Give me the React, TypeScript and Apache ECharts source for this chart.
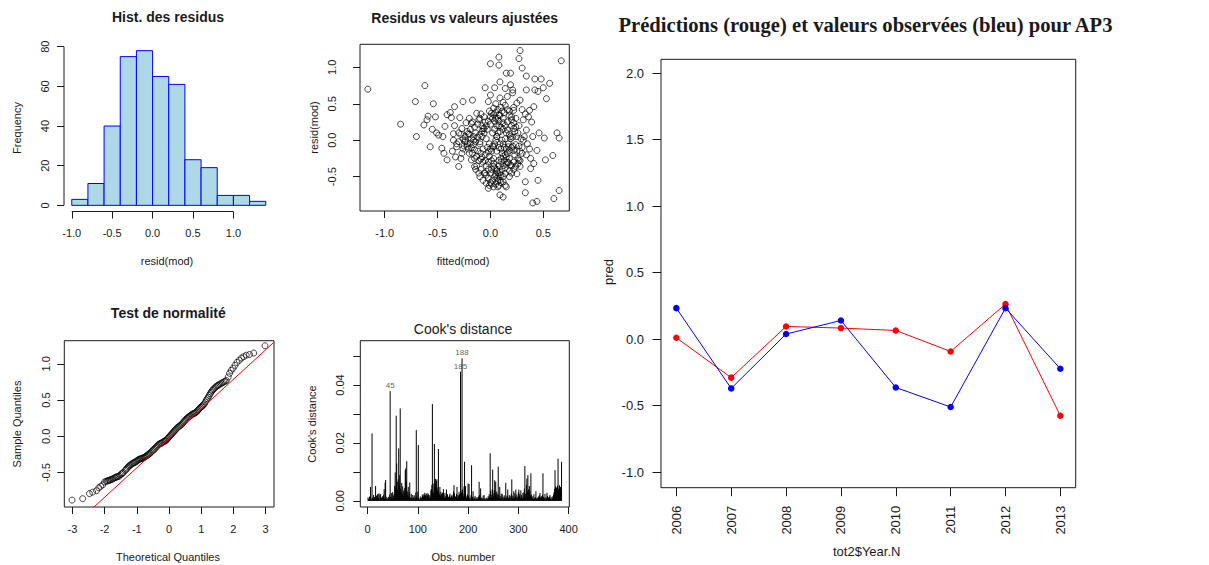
import React, { useEffect, useRef } from "react";
import * as echarts from "echarts";

// ---------- Panel 1: histogram of residuals ----------
const histBreaks = [-1.0, -0.8, -0.6, -0.4, -0.2, 0.0, 0.2, 0.4, 0.6, 0.8, 1.0, 1.2, 1.4];
const histCounts = [3, 11, 40, 75, 78, 65, 61, 23, 19, 5, 5, 2];
const histXTicks = [-1, -0.5, 0, 0.5, 1];
const histYTicks = [0, 20, 40, 60, 80];
const histXRange = [-1.096, 1.496];
const histYRange = [-3.12, 81.12];

// ---------- Panel 2: residuals vs fitted ----------
const residVsFitted: number[][] = [
  [-1.16, 0.7], [-0.85, 0.22], [-0.71, 0.53], [-0.7, 0.05], [-0.62, 0.75], [-0.54, 0.5], [-0.57, -0.09], [-0.6, 0.28],
  [-0.63, 0.21], [-0.59, 0.33], [-0.52, 0.32], [-0.51, 0.1], [-0.49, 0.07], [-0.55, 0.15], [-0.43, 0.19], [-0.45, 0.05],
  [-0.46, -0.11], [-0.44, -0.18], [-0.41, -0.27], [-0.38, 0.38], [-0.37, 0.31], [-0.41, 0.35], [-0.34, 0.46], [-0.35, 0.09],
  [-0.35, 0.0], [-0.32, -0.09], [-0.33, -0.23], [-0.3, -0.36], [-0.29, 0.31], [-0.27, 0.16], [-0.26, 0.53], [-0.27, -0.18],
  [-0.24, 0.0], [-0.22, -0.09], [-0.21, 0.09], [-0.19, -0.04], [-0.17, 0.55], [-0.18, 0.23], [-0.16, 0.05], [-0.15, -0.13],
  [-0.18, -0.27], [-0.15, -0.36], [-0.13, 0.37], [-0.11, 0.28], [-0.1, -0.02], [-0.08, -0.23], [-0.07, 0.16], [-0.05, 0.72],
  [-0.05, -0.45], [-0.04, -0.59], [-0.02, -0.66], [-0.02, 0.53], [0.0, 1.05], [0.0, 0.62], [0.01, 0.37], [0.03, -0.09],
  [0.03, -0.36], [0.04, 0.72], [0.06, 0.05], [0.07, -0.64], [0.08, 1.14], [0.08, 1.03], [0.09, 0.8], [0.09, -0.75],
  [0.12, -0.78], [0.14, 0.71], [0.15, 0.92], [0.19, 0.92], [0.19, 0.76], [0.21, 0.69], [0.28, 1.23], [0.27, 1.12],
  [0.3, 0.99], [0.34, 0.88], [0.34, 0.69], [0.42, 0.84], [0.48, 0.84], [0.42, 0.69], [0.45, 0.67], [0.5, 0.72],
  [0.56, 0.78], [0.53, 0.57], [0.67, 1.09], [0.63, 0.1], [0.65, 0.03], [0.59, -0.21], [0.52, -0.27], [0.51, 0.03],
  [0.46, 0.1], [0.44, -0.14], [0.45, -0.55], [0.38, -0.39], [0.33, -0.57], [0.33, -0.72], [0.4, -0.86], [0.44, -0.84],
  [0.6, -0.8], [0.65, -0.69], [0.36, 0.32], [0.39, 0.25], [0.37, 0.41], [0.41, 0.46], [0.34, 0.14], [0.31, 0.0],
  [0.3, -0.18], [0.27, -0.27], [0.28, -0.36], [0.25, -0.46], [0.28, 0.55], [0.25, 0.51], [0.22, 0.41], [0.2, 0.32],
  [0.22, 0.16], [0.19, 0.05], [0.17, -0.09], [0.15, -0.23], [0.19, -0.34], [0.14, -0.46], [0.12, -0.57], [0.15, -0.64],
  [-0.1, 0.3], [-0.08, 0.2], [-0.05, 0.25], [-0.03, 0.15], [0.0, 0.22], [0.02, 0.1], [0.05, 0.3], [0.07, 0.42],
  [0.08, 0.35], [0.1, 0.45], [0.12, 0.3], [0.06, 0.05], [0.09, -0.05], [0.11, 0.0], [0.13, -0.1], [0.15, 0.1],
  [0.17, -0.05], [0.19, 0.02], [0.21, -0.08], [0.23, 0.12], [0.25, 0.05], [0.14, -0.2], [0.16, -0.3], [0.18, -0.25],
  [0.2, -0.35], [0.22, -0.3], [0.1, -0.3], [0.08, -0.35], [0.06, -0.4], [0.04, -0.5], [0.02, -0.55], [0.0, -0.58],
  [-0.02, -0.52], [0.05, -0.6], [0.07, -0.45], [0.09, -0.55], [0.11, -0.4], [0.03, -0.25], [0.01, -0.15], [-0.01, -0.05],
  [-0.03, -0.1], [-0.05, -0.2], [-0.07, -0.3], [-0.09, -0.4], [-0.11, -0.45], [-0.13, -0.35], [-0.15, -0.25], [-0.12, -0.15],
  [-0.1, -0.05], [-0.08, 0.05], [-0.06, 0.1], [-0.04, 0.02], [-0.02, -0.3], [-0.14, 0.1], [-0.16, 0.0], [-0.18, -0.1],
  [-0.2, -0.18], [-0.22, -0.05], [-0.24, 0.05], [-0.19, 0.15], [-0.17, 0.25], [-0.26, -0.12], [-0.28, -0.25], [-0.3, 0.1],
  [-0.32, -0.05], [-0.34, 0.2], [-0.36, -0.15], [0.04, 0.15], [0.08, 0.2], [0.12, 0.15], [0.16, 0.25], [0.2, 0.2],
  [0.24, 0.3], [0.27, 0.2], [0.28, -0.15], [0.26, -0.25], [0.3, -0.1], [0.32, 0.05], [0.34, -0.2], [0.12, -0.5],
  [0.14, -0.62], [0.18, -0.5], [0.03, 0.35], [-0.01, 0.4], [0.06, -0.15], [0.15, -0.12], [-0.06, -0.45], [-0.04, -0.35],
  [0.01, -0.4], [0.09, 0.12], [0.13, 0.38], [0.18, 0.4], [0.22, 0.45], [0.05, 0.5], [0.09, 0.58], [0.16, 0.6], [0.21, 0.65],
  [0.06, -0.52], [0.07, -0.56], [0.08, -0.5], [0.05, -0.47], [0.09, -0.44], [0.1, -0.48], [0.06, -0.42], [0.04, -0.38],
  [0.08, -0.28], [0.1, -0.25], [0.12, -0.22], [0.11, -0.18], [0.13, -0.28], [0.15, -0.33], [0.17, -0.31], [0.16, -0.18],
  [0.18, -0.14], [0.2, -0.1], [0.22, -0.14], [0.24, -0.06], [0.21, 0.04], [0.18, 0.08], [0.16, 0.14], [0.14, 0.2],
  [0.12, 0.24], [0.1, 0.18], [0.08, 0.26], [0.06, 0.2], [0.04, 0.26], [0.02, 0.3], [0.0, 0.32], [-0.02, 0.26],
  [-0.04, 0.2], [-0.06, 0.16], [-0.08, 0.12], [-0.1, 0.08], [-0.12, 0.04], [-0.14, -0.02], [-0.16, -0.06], [-0.18, 0.02],
  [-0.2, 0.08], [-0.22, 0.12], [-0.24, -0.02], [-0.26, 0.02], [-0.28, 0.08], [-0.3, -0.02], [-0.25, -0.08], [-0.21, -0.12],
  [-0.17, -0.18], [-0.13, -0.22], [-0.09, -0.26], [-0.05, -0.28], [-0.01, -0.22], [0.01, -0.28], [0.03, -0.32], [0.0, -0.45],
  [-0.02, -0.4], [-0.04, -0.48], [-0.01, -0.62], [0.01, -0.6], [0.03, -0.64], [0.08, -0.62], [0.1, -0.58], [0.12, -0.35],
  [0.14, -0.38], [0.18, -0.42], [0.2, -0.45], [0.22, -0.4], [0.24, -0.36], [0.26, -0.32], [0.28, -0.28], [0.23, -0.2],
  [0.25, -0.15], [0.27, -0.08], [0.29, 0.02], [0.26, 0.1], [0.24, 0.18], [0.22, 0.24], [0.2, 0.28], [0.18, 0.34],
  [0.16, 0.42], [0.14, 0.48], [0.12, 0.52], [0.11, 0.4], [0.09, 0.34], [0.07, 0.3], [0.05, 0.38], [0.03, 0.44],
  [0.07, 0.1], [0.05, 0.0], [0.04, -0.05], [0.02, -0.08], [0.0, -0.12], [-0.02, -0.16], [0.08, -0.1], [0.1, -0.12],
  [0.12, -0.05], [0.14, 0.02], [-0.07, -0.12], [-0.09, -0.18], [-0.11, -0.28], [-0.06, 0.32], [-0.09, 0.36], [-0.12, 0.22],
  [-0.15, 0.18], [-0.2, 0.3], [-0.23, 0.24], [-0.14, -0.4], [-0.1, -0.5], [-0.07, -0.55], [0.31, 0.28], [0.33, 0.36],
  [0.3, 0.42], [0.35, -0.05], [0.37, -0.12], [0.4, 0.05], [0.38, -0.25], [0.41, -0.32],
];
const scatterXTicks = [-1, -0.5, 0, 0.5];
const scatterYTicks = [-0.5, 0, 0.5, 1];
const scatterXRange = [-1.234, 0.746];
const scatterYRange = [-0.971, 1.316];

// ---------- Panel 3: normal QQ plot ----------
const qqPoints: number[][] = [
  [-3.01, -0.88], [-2.68, -0.86], [-2.47, -0.79], [-2.37, -0.77], [-2.25, -0.75], [-2.18, -0.71], [-2.12, -0.69],
  [-2.06, -0.67], [-2.0, -0.63], [-1.95, -0.62], [-1.88, -0.61], [-1.82, -0.6], [-1.75, -0.59], [-1.68, -0.57],
  [-1.62, -0.56], [-1.55, -0.55], [-1.48, -0.52], [-1.42, -0.5], [-1.36, -0.47], [-1.3, -0.44], [-1.24, -0.41],
  [-1.18, -0.39], [-1.12, -0.37], [-1.06, -0.36], [-1.0, -0.34], [-0.94, -0.32], [-0.88, -0.31], [-0.82, -0.3],
  [-0.76, -0.29], [-0.7, -0.27], [-0.64, -0.25], [-0.58, -0.23], [-0.52, -0.2], [-0.46, -0.18], [-0.4, -0.15],
  [-0.34, -0.12], [-0.28, -0.1], [-0.22, -0.09], [-0.16, -0.07], [-0.1, -0.06], [-0.04, -0.03], [0.02, 0.0],
  [0.08, 0.03], [0.14, 0.06], [0.2, 0.09], [0.26, 0.12], [0.32, 0.14], [0.38, 0.16], [0.44, 0.19], [0.5, 0.22],
  [0.56, 0.25], [0.62, 0.27], [0.68, 0.29], [0.74, 0.31], [0.8, 0.32], [0.86, 0.34], [0.92, 0.37], [0.98, 0.4],
  [1.04, 0.42], [1.1, 0.45], [1.16, 0.5], [1.22, 0.54], [1.28, 0.59], [1.34, 0.63], [1.4, 0.66], [1.47, 0.69],
  [1.54, 0.71], [1.62, 0.73], [1.7, 0.75], [1.78, 0.77], [1.84, 0.82], [1.88, 0.87], [1.93, 0.91], [1.99, 0.94],
  [2.05, 0.98], [2.11, 1.02], [2.18, 1.05], [2.25, 1.08], [2.32, 1.1], [2.4, 1.12], [2.5, 1.13], [2.63, 1.15], [2.98, 1.25],
  [-1.33, -0.455], [-1.27, -0.425], [-1.21, -0.4], [-1.15, -0.38], [-1.09, -0.365], [-1.03, -0.35], [-0.97, -0.33],
  [-0.91, -0.315], [-0.85, -0.305], [-0.79, -0.295], [-0.73, -0.28], [-0.67, -0.26], [-0.61, -0.24], [-0.55, -0.215],
  [-0.49, -0.19], [-0.43, -0.165], [-0.37, -0.135], [-0.31, -0.11], [-0.25, -0.095], [-0.19, -0.08], [-0.13, -0.065],
  [-0.07, -0.045], [-0.01, -0.015], [0.05, 0.015], [0.11, 0.045], [0.17, 0.075], [0.23, 0.105], [0.29, 0.13],
  [0.35, 0.15], [0.41, 0.175], [0.47, 0.205], [0.53, 0.235], [0.59, 0.26], [0.65, 0.28], [0.71, 0.3], [0.77, 0.315],
  [0.83, 0.33], [0.89, 0.355], [0.95, 0.385], [1.01, 0.41], [1.07, 0.435], [1.13, 0.475], [1.19, 0.52], [1.25, 0.565],
  [1.31, 0.61], [1.37, 0.645], [1.44, 0.675], [1.51, 0.7], [1.58, 0.72], [1.66, 0.74], [1.74, 0.76], [-1.45, -0.51],
  [-1.52, -0.535], [-1.59, -0.555], [-1.65, -0.565], [-1.72, -0.58], [-1.79, -0.595], [-1.85, -0.605], [-1.91, -0.615],
];
const qqLineX = [-3.25, 3.26];
const qqLineY = [-1.35, 1.3];
const qqXTicks = [-3, -2, -1, 0, 1, 2, 3];
const qqYTicks = [-0.5, 0, 0.5, 1];
const qqXRange = [-3.25, 3.26];
const qqYRange = [-0.975, 1.32];

// ---------- Panel 4: Cook's distance (values in thousandths, obs 1..386) ----------
const cookMilli = [
  1.2, 0.4, 0.8, 1.5, 0.6, 4.8, 0.9, 0.3, 23.3, 1.1, 0.7, 2.0, 0.5, 1.3, 0.4, 5.1, 0.9, 1.8, 0.6, 2.2,
  2.4, 1.0, 2.6, 0.5, 1.9, 2.3, 0.7, 1.2, 0.4, 1.6, 0.8, 2.1, 4.0, 1.0, 6.3, 7.2, 1.5, 0.6, 1.1, 0.3,
  0.9, 1.4, 0.5, 2.2, 37.9, 1.3, 0.8, 2.7, 1.1, 3.0, 0.6, 1.8, 2.4, 5.2, 9.8, 4.5, 29.4, 12.9, 6.5, 3.8,
  7.4, 18.1, 5.6, 8.9, 31.9, 4.2, 3.1, 6.2, 2.5, 5.0, 1.7, 3.6, 2.9, 4.4, 10.6, 11.2, 6.8, 13.7, 3.3, 2.1,
  4.8, 1.5, 3.0, 6.3, 1.2, 0.8, 2.4, 1.0, 0.6, 2.0, 1.3, 0.7, 1.9, 0.5, 1.1, 2.8, 24.4, 1.6, 0.9, 3.2,
  19.3, 1.0, 0.4, 0.7, 1.5, 0.3, 0.9, 1.2, 2.2, 1.7, 1.4, 2.3, 1.9, 2.8, 2.0, 1.6, 2.5, 1.1, 1.8, 2.6,
  2.3, 1.5, 0.9, 2.0, 1.4, 3.6, 4.1, 5.5, 33.4, 3.2, 2.7, 6.0, 19.6, 4.9, 7.6, 5.8, 6.9, 7.4, 3.5, 4.6,
  17.9, 3.0, 2.2, 4.8, 1.9, 3.1, 2.4, 1.3, 2.8, 1.6, 4.0, 2.0, 1.1, 2.7, 1.5, 0.8, 3.9, 1.7, 2.3, 1.0,
  1.4, 0.7, 1.9, 2.5, 1.2, 0.6, 1.6, 2.1, 0.9, 1.8, 3.3, 5.4, 2.6, 1.0, 1.5, 0.8, 2.4, 4.8, 1.2, 2.0,
  1.7, 3.1, 2.3, 1.4, 44.6, 3.5, 2.8, 49.2, 3.9, 2.6, 1.5, 5.0, 13.5, 2.4, 5.1, 1.8, 0.9, 1.3, 2.2, 6.0,
  1.6, 5.8, 0.7, 1.2, 0.5, 2.0, 12.3, 0.9, 1.4, 3.3, 0.6, 1.1, 0.8, 1.7, 0.4, 1.0, 0.6, 1.3, 0.5, 0.9,
  1.5, 6.6, 2.0, 0.8, 4.3, 1.2, 0.6, 1.0, 0.4, 1.8, 0.7, 2.0, 0.5, 0.9, 0.3, 0.6, 1.1, 0.4, 0.8, 1.6,
  0.9, 2.3, 1.4, 16.4, 3.5, 2.1, 1.2, 4.0, 10.8, 2.6, 1.5, 3.7, 7.1, 2.8, 6.6, 1.9, 3.2, 2.4, 1.3, 11.8,
  2.1, 1.0, 4.8, 1.6, 0.8, 2.5, 1.1, 2.3, 0.7, 1.4, 0.5, 1.9, 0.9, 1.2, 6.2, 0.6, 1.5, 1.8, 3.9, 1.1,
  0.7, 2.0, 1.3, 0.5, 1.6, 2.4, 7.4, 1.0, 1.8, 0.8, 3.3, 1.2, 2.6, 1.5, 3.9, 0.9, 2.2, 1.4, 0.6, 2.9,
  3.9, 1.7, 2.5, 1.0, 3.6, 2.0, 1.3, 0.8, 2.7, 1.5, 3.0, 4.2, 12.0, 2.4, 1.1, 5.5, 7.7, 3.2, 8.9, 4.0,
  2.6, 5.1, 3.4, 1.8, 9.5, 2.2, 1.4, 0.9, 1.6, 0.6, 2.3, 1.0, 0.5, 1.3, 3.3, 0.8, 0.4, 1.1, 0.7, 1.5,
  0.9, 1.9, 2.7, 1.2, 0.6, 1.6, 0.8, 2.1, 9.5, 1.4, 0.7, 1.0, 2.4, 0.5, 1.3, 0.9, 2.8, 1.7, 0.6, 1.2,
  0.8, 1.5, 2.0, 0.7, 1.1, 0.4, 1.4, 0.9, 1.6, 2.2, 3.0, 4.1, 10.6, 5.0, 3.4, 4.6, 2.8, 5.2, 14.6, 3.9,
  4.4, 5.4, 3.1, 4.8, 3.6, 13.5,
];
const cookLabelled = [45, 185, 188];
const cookXTicks = [0, 100, 200, 300, 400];
const cookYTicks = [0, 0.01, 0.02, 0.03, 0.04, 0.05];
const cookYLabels = [0, 0.02, 0.04];
const cookXRange = [-14.4, 401.4];
const cookYRange = [-0.00213, 0.0553];

// ---------- Panel 5: predictions vs observations ----------
const years = [2006, 2007, 2008, 2009, 2010, 2011, 2012, 2013];
const predicted = [0.01, -0.29, 0.095, 0.083, 0.065, -0.093, 0.263, -0.577];
const observed = [0.233, -0.371, 0.038, 0.14, -0.364, -0.511, 0.233, -0.223];
const mainYTicks = [-1, -0.5, 0, 0.5, 1, 1.5, 2];
const mainXRange = [2005.72, 2013.28];
const mainYRange = [-1.118, 2.105];

const SANS = "Liberation Sans, Arial, sans-serif";
const SERIF = "Liberation Serif, Times New Roman, serif";
const INK = "#1a1a1a";

function axis(
  gridIndex: number,
  range: number[],
  ticks: number[],
  labels: number[],
  fmt: (v: number) => string,
  o: { margin?: number; rotate?: number; fontSize?: number; tickLen?: number } = {}
) {
  return {
    type: "value",
    gridIndex,
    min: range[0],
    max: range[1],
    axisLine: { show: false, onZero: false },
    splitLine: { show: false },
    axisTick: {
      show: true,
      inside: false,
      length: o.tickLen ?? 7,
      lineStyle: { color: INK, width: 1 },
      customValues: ticks,
    },
    axisLabel: {
      show: true,
      customValues: labels,
      formatter: fmt,
      margin: o.margin ?? 14,
      rotate: o.rotate ?? 0,
      fontSize: o.fontSize ?? 11,
      fontFamily: SANS,
      color: INK,
      hideOverlap: false,
    },
  };
}

function txt(text: string, x: number, y: number, o: any = {}) {
  return {
    type: "text",
    x,
    y,
    rotation: o.rot ?? 0,
    silent: true,
    style: {
      text,
      fill: INK,
      fontSize: o.size ?? 11,
      fontFamily: o.family ?? SANS,
      fontWeight: o.weight ?? "normal",
      align: "center",
      verticalAlign: "middle",
    },
  };
}

const f1 = (v: number) => v.toFixed(1);
const f0 = (v: number) => String(v);
const f2 = (v: number) => v.toFixed(2);

const openCircle = { color: "rgba(0,0,0,0)", borderColor: "#000", borderWidth: 0.9 };

export default function App() {
  const ref = useRef<HTMLDivElement>(null);

  useEffect(() => {
    if (!ref.current) return;
    const chart = echarts.init(ref.current, undefined, { renderer: "svg" });

    const gridBase = { containLabel: false, outerBoundsMode: "none" };
    const boxed = { show: true, borderColor: INK, borderWidth: 1, backgroundColor: "transparent" };

    const option: any = {
      animation: false,
      backgroundColor: "#ffffff",
      grid: [
        { ...gridBase, show: false, left: 64, top: 44.5, width: 209.5, height: 167 },
        { ...gridBase, ...boxed, left: 360, top: 44.3, width: 209.3, height: 166.7 },
        { ...gridBase, ...boxed, left: 64.3, top: 340.7, width: 209.7, height: 166.3 },
        { ...gridBase, ...boxed, left: 360.3, top: 340.7, width: 209, height: 166.3 },
        { ...gridBase, ...boxed, left: 661, top: 59.3, width: 414.7, height: 428.4 },
      ],
      xAxis: [
        axis(0, histXRange, histXTicks, histXTicks, f1, { margin: 16 }),
        axis(1, scatterXRange, scatterXTicks, scatterXTicks, f1, { margin: 16 }),
        axis(2, qqXRange, qqXTicks, qqXTicks, f0, { margin: 16 }),
        axis(3, cookXRange, cookXTicks, cookXTicks, f0, { margin: 16 }),
        axis(4, mainXRange, years, years, f0, { margin: 18, rotate: 90, fontSize: 13, tickLen: 8.5 }),
      ],
      yAxis: [
        axis(0, histYRange, histYTicks, histYTicks, f0, { margin: 14, rotate: 90 }),
        axis(1, scatterYRange, scatterYTicks, scatterYTicks, f1, { margin: 23, rotate: 90 }),
        axis(2, qqYRange, qqYTicks, qqYTicks, f1, { margin: 13, rotate: 90 }),
        axis(3, cookYRange, cookYTicks, cookYLabels, f2, { margin: 15, rotate: 90 }),
        axis(4, mainYRange, mainYTicks, mainYTicks, f1, { margin: 17, fontSize: 13, tickLen: 8.5 }),
      ],
      series: [
        {
          type: "custom",
          xAxisIndex: 0,
          yAxisIndex: 0,
          silent: true,
          data: histCounts.map((c, i) => [histBreaks[i], histBreaks[i + 1], c]),
          encode: { x: [0, 1], y: 2 },
          renderItem: (_p: any, api: any) => {
            const a = api.coord([api.value(0), api.value(2)]);
            const b = api.coord([api.value(1), 0]);
            return {
              type: "rect",
              shape: { x: a[0], y: a[1], width: b[0] - a[0], height: b[1] - a[1] },
              style: { fill: "#ADD8E6", stroke: "#0000FF", lineWidth: 1 },
            };
          },
        },
        {
          type: "line",
          xAxisIndex: 0,
          yAxisIndex: 0,
          silent: true,
          clip: false,
          symbol: "none",
          lineStyle: { color: INK, width: 1 },
          data: [
            [histXRange[0], histYTicks[0]],
            [histXRange[0], histYTicks[histYTicks.length - 1]],
          ],
        },
        {
          type: "line",
          xAxisIndex: 0,
          yAxisIndex: 0,
          silent: true,
          clip: false,
          symbol: "none",
          lineStyle: { color: INK, width: 1 },
          data: [
            [histXTicks[0], histYRange[0]],
            [histXTicks[histXTicks.length - 1], histYRange[0]],
          ],
        },
        {
          type: "scatter",
          xAxisIndex: 1,
          yAxisIndex: 1,
          silent: true,
          symbol: "circle",
          symbolSize: 6,
          itemStyle: openCircle,
          data: residVsFitted,
        },
        {
          type: "line",
          xAxisIndex: 2,
          yAxisIndex: 2,
          silent: true,
          clip: true,
          symbol: "none",
          lineStyle: { color: "#FF0000", width: 1 },
          data: qqLineX.map((x, i) => [x, qqLineY[i]]),
        },
        {
          type: "scatter",
          xAxisIndex: 2,
          yAxisIndex: 2,
          silent: true,
          symbol: "circle",
          symbolSize: 6,
          itemStyle: openCircle,
          data: qqPoints,
        },
        {
          type: "custom",
          xAxisIndex: 3,
          yAxisIndex: 3,
          silent: true,
          data: cookMilli.map((v, i) => [i + 1, v / 1000]),
          encode: { x: 0, y: 1 },
          renderItem: (_p: any, api: any) => {
            const a = api.coord([api.value(0), 0]);
            const b = api.coord([api.value(0), api.value(1)]);
            return {
              type: "line",
              shape: { x1: a[0], y1: a[1], x2: b[0], y2: b[1] },
              style: { stroke: "#000", lineWidth: 1 },
            };
          },
        },
        {
          type: "scatter",
          xAxisIndex: 3,
          yAxisIndex: 3,
          silent: true,
          symbolSize: 1,
          itemStyle: { color: "rgba(0,0,0,0)" },
          label: {
            show: true,
            position: "top",
            distance: 1,
            formatter: (p: any) => p.name,
            fontSize: 8,
            fontFamily: SANS,
            color: "#333",
          },
          data: cookLabelled.map((o) => ({ name: String(o), value: [o, cookMilli[o - 1] / 1000] })),
        },
        {
          type: "line",
          xAxisIndex: 4,
          yAxisIndex: 4,
          silent: true,
          symbol: "circle",
          symbolSize: 6.5,
          lineStyle: { color: "#FF0000", width: 1 },
          itemStyle: { color: "#FF0000" },
          data: years.map((y, i) => [y, predicted[i]]),
        },
        {
          type: "line",
          xAxisIndex: 4,
          yAxisIndex: 4,
          silent: true,
          symbol: "circle",
          symbolSize: 6.5,
          lineStyle: { color: "#0000FF", width: 1 },
          itemStyle: { color: "#0000FF" },
          data: years.map((y, i) => [y, observed[i]]),
        },
      ],
      graphic: [
        txt("Hist. des residus", 168, 17, { size: 14, weight: "bold" }),
        txt("Frequency", 17, 128, { rot: Math.PI / 2 }),
        txt("resid(mod)", 167, 260.5),
        txt("Residus vs valeurs ajustées", 464.7, 18.3, { size: 14, weight: "bold" }),
        txt("resid(mod)", 313.5, 127.5, { rot: Math.PI / 2 }),
        txt("fitted(mod)", 463, 260.5),
        txt("Test de normalité", 168.3, 313.3, { size: 14, weight: "bold" }),
        txt("Sample Quantiles", 16.7, 424, { rot: Math.PI / 2 }),
        txt("Theoretical Quantiles", 168, 556.7),
        txt("Cook's distance", 463, 329, { size: 14 }),
        txt("Cook's distance", 311.7, 424, { rot: Math.PI / 2 }),
        txt("Obs. number", 463.3, 556.7),
        txt("Prédictions (rouge) et valeurs observées (bleu) pour AP3", 865.5, 25, {
          size: 20.6,
          weight: "bold",
          family: SERIF,
        }),
        txt("pred", 608, 272, { rot: Math.PI / 2, size: 13 }),
        txt("tot2$Year.N", 866.7, 551.7, { size: 13 }),
      ],
    };

    chart.setOption(option);
    return () => chart.dispose();
  }, []);

  return (
    <div
      ref={ref}
      style={{ position: "fixed", left: 0, top: 0, width: 1209, height: 565, background: "#fff" }}
    />
  );
}
